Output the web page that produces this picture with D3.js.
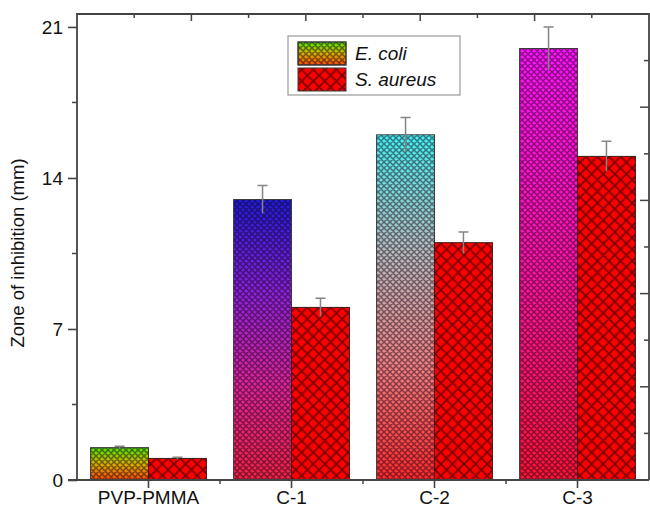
<!DOCTYPE html>
<html>
<head>
<meta charset="utf-8">
<script src="https://cdn.jsdelivr.net/npm/d3@7"></script>
<style>
  html, body { margin: 0; padding: 0; background: #fff; }
  svg { display: block; font-family: "Liberation Sans", Arial, sans-serif; }
</style>
</head>
<body>
<svg id="chart" width="650" height="510"></svg>
<script>
// ── Data ──
const categories = ["PVP-PMMA", "C-1", "C-2", "C-3"];
const seriesNames = ["E. coli", "S. aureus"];
const ecoliValues = [1.5, 13.0, 16.0, 20.0];
const ecoliErrors = [0.06, 0.65, 0.8, 1.0];
const aureusValues = [1.0, 8.0, 11.0, 15.0];
const aureusErrors = [0.05, 0.42, 0.5, 0.7];
const yTickValues = [0, 7, 14, 21];

// gradient stops for the E. coli bars (top → bottom), one set per category
const ecoliStops = [
  ["#4ce800", "#d8b400", "#f44a00"],
  ["#1c1cd8", "#8c22dc", "#e0259a", "#f22242"],
  ["#44f2f2", "#b6c0c0", "#f08282", "#ff2a2a"],
  ["#ff14ff", "#ff14a8", "#ff1434"]
];

const svg = d3.select("#chart");
const plotL = 77, plotR = 649, plotT = 14, plotB = 480;

const y = d3.scaleLinear().domain([0, 21.6]).range([plotB, plotT]);
const x = d3.scaleBand().domain(categories).range([plotL, plotR])
  .paddingInner(0.19).paddingOuter(0.095);
const xs = d3.scaleBand().domain(seriesNames).range([0, x.bandwidth()]);

const defs = svg.append("defs");

// ── Patterns ──
const fine = defs.append("pattern")
  .attr("id", "fineHatch")
  .attr("patternUnits", "userSpaceOnUse")
  .attr("width", 6).attr("height", 6);
fine.append("path")
  .attr("d", "M0,0L6,6M6,0L0,6M-1,5L1,7M5,-1L7,1M-1,1L1,-1M5,7L7,5")
  .attr("stroke", "rgba(20,0,20,0.5)")
  .attr("stroke-width", 1.5);

const coarse = defs.append("pattern")
  .attr("id", "coarseHatch")
  .attr("patternUnits", "userSpaceOnUse")
  .attr("width", 11.6).attr("height", 11.6);
coarse.append("rect").attr("width", 11.6).attr("height", 11.6).attr("fill", "#ff0000");
coarse.append("path")
  .attr("d", "M0,0L11.6,11.6M11.6,0L0,11.6")
  .attr("stroke", "rgba(90,0,0,0.8)")
  .attr("stroke-width", 1.8);

// gradients
ecoliStops.forEach((stops, i) => {
  const gr = defs.append("linearGradient")
    .attr("id", "grad" + i)
    .attr("x1", 0).attr("y1", 0).attr("x2", 0).attr("y2", 1);
  stops.forEach((c, j) => {
    gr.append("stop")
      .attr("offset", j / (stops.length - 1))
      .attr("stop-color", c);
  });
});

// ── Bars ──
const ecoliData = categories.map((c, i) => ({ cat: c, s: "E. coli", v: ecoliValues[i], e: ecoliErrors[i], i }));
const aureusData = categories.map((c, i) => ({ cat: c, s: "S. aureus", v: aureusValues[i], e: aureusErrors[i], i }));

const bars = svg.append("g");

bars.selectAll(".ecoli")
  .data(ecoliData)
  .join("rect")
  .attr("class", "ecoli")
  .attr("x", d => x(d.cat) + xs(d.s))
  .attr("y", d => y(d.v))
  .attr("width", xs.bandwidth())
  .attr("height", d => y(0) - y(d.v))
  .attr("fill", d => `url(#grad${d.i})`);

bars.selectAll(".ecoliHatch")
  .data(ecoliData)
  .join("rect")
  .attr("class", "ecoliHatch")
  .attr("x", d => x(d.cat) + xs(d.s))
  .attr("y", d => y(d.v))
  .attr("width", xs.bandwidth())
  .attr("height", d => y(0) - y(d.v))
  .attr("fill", "url(#fineHatch)")
  .attr("stroke", "#3a3a3a")
  .attr("stroke-width", 1);

bars.selectAll(".aureus")
  .data(aureusData)
  .join("rect")
  .attr("class", "aureus")
  .attr("x", d => x(d.cat) + xs(d.s))
  .attr("y", d => y(d.v))
  .attr("width", xs.bandwidth())
  .attr("height", d => y(0) - y(d.v))
  .attr("fill", "url(#coarseHatch)")
  .attr("stroke", "#3a1a1a")
  .attr("stroke-width", 1);

// ── Error bars ──
const errs = svg.append("g")
  .attr("stroke", "#858585")
  .attr("stroke-width", 1.5)
  .attr("fill", "none");

errs.selectAll("path")
  .data(ecoliData.concat(aureusData))
  .join("path")
  .attr("d", d => {
    const cx = x(d.cat) + xs(d.s) + xs.bandwidth() / 2;
    const hi = y(d.v + d.e), lo = y(d.v - d.e);
    return `M${cx},${lo}V${hi}M${cx - 5},${hi}H${cx + 5}`;
  });

// ── Axes ──
const axisColor = "#444";
const axes = svg.append("g").attr("stroke", axisColor).attr("fill", "none");

// frame
axes.append("path")
  .attr("d", `M${plotL},${plotB}V${plotT}H${plotR}V${plotB}`)
  .attr("stroke-width", 1.8);
axes.append("path")
  .attr("d", `M${plotL - 9},${plotB}H${plotR}`)
  .attr("stroke-width", 1.8);

// left ticks
const leftAxis = d3.axisLeft(y).tickValues(yTickValues).tickSize(9).tickPadding(5);
const gL = svg.append("g").attr("transform", `translate(${plotL},0)`).call(leftAxis);
gL.select(".domain").remove();
gL.selectAll("line").attr("stroke", axisColor).attr("stroke-width", 1.6);
gL.selectAll("text")
  .attr("font-size", 19)
  .attr("fill", "#111")
  .attr("font-family", "Liberation Sans, Arial, sans-serif");

svg.append("g").selectAll("line")
  .data([3.5, 10.5, 17.5])
  .join("line")
  .attr("x1", plotL - 5).attr("x2", plotL)
  .attr("y1", d => y(d)).attr("y2", d => y(d))
  .attr("stroke", axisColor).attr("stroke-width", 1.5);

// bottom ticks
const bottomAxis = d3.axisBottom(x).tickSize(8).tickPadding(3);
const gB = svg.append("g").attr("transform", `translate(0,${plotB})`).call(bottomAxis);
gB.select(".domain").remove();
gB.selectAll("line").attr("stroke", axisColor).attr("stroke-width", 1.6);
gB.selectAll("text")
  .attr("font-size", 19)
  .attr("fill", "#111")
  .attr("font-family", "Liberation Sans, Arial, sans-serif");

svg.append("g").selectAll("line")
  .data(categories.slice(1))
  .join("line")
  .attr("x1", d => x(d) - x.step() / 2 + x.bandwidth() / 2)
  .attr("x2", d => x(d) - x.step() / 2 + x.bandwidth() / 2)
  .attr("y1", plotB).attr("y2", plotB + 4)
  .attr("stroke", axisColor).attr("stroke-width", 1.5);

// top ticks (mirror axis)
const xTop = d3.scaleLinear().domain([0, 10]).range([plotL, plotR]);
svg.append("g").selectAll("line")
  .data(d3.range(1, 10))
  .join("line")
  .attr("x1", d => xTop(d)).attr("x2", d => xTop(d))
  .attr("y1", plotT).attr("y2", d => plotT + (d % 2 ? 4 : 7))
  .attr("stroke", axisColor).attr("stroke-width", 1.5);

// right ticks (mirror axis)
const yRight = d3.scaleLinear().domain([0, 10]).range([plotB, plotT]);
svg.append("g").selectAll("line")
  .data(d3.range(1, 10))
  .join("line")
  .attr("x1", d => plotR - (d % 2 ? 5 : 9)).attr("x2", plotR)
  .attr("y1", d => yRight(d)).attr("y2", d => yRight(d))
  .attr("stroke", axisColor).attr("stroke-width", 1.5);

// y title
svg.append("text")
  .attr("transform", `translate(24,${(plotT + plotB) / 2 + 6}) rotate(-90)`)
  .attr("text-anchor", "middle")
  .attr("font-size", 18.5)
  .attr("fill", "#111")
  .text("Zone of inhibition (mm)");

// ── Legend ──
const legend = svg.append("g");
legend.append("rect")
  .attr("x", 288).attr("y", 36)
  .attr("width", 172).attr("height", 59)
  .attr("fill", "#fff")
  .attr("stroke", "#9a9a9a")
  .attr("stroke-width", 1.2);

const legendFills = [["url(#grad0)", "url(#fineHatch)"], ["url(#coarseHatch)"]];
seriesNames.forEach((name, i) => {
  const gy = 42 + i * 26;
  legendFills[i].forEach(f => {
    legend.append("rect")
      .attr("x", 298).attr("y", gy)
      .attr("width", 48).attr("height", 23)
      .attr("fill", f)
      .attr("stroke", "#3a3a3a")
      .attr("stroke-width", 1);
  });
  legend.append("text")
    .attr("x", 355).attr("y", gy + 18)
    .attr("font-size", 19)
    .attr("font-style", "italic")
    .attr("fill", "#111")
    .text(name);
});
</script>
</body>
</html>
